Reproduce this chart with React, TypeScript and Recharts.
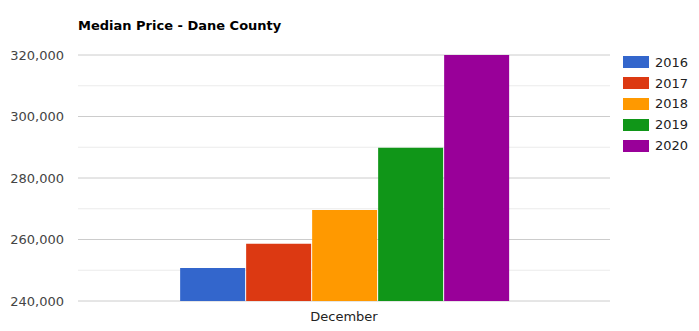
import React from "react";
import { BarChart, Bar, XAxis, YAxis, CartesianGrid } from "recharts";

const categories = ["December"];
const seriesNames = ["2016", "2017", "2018", "2019", "2020"];
const seriesValues = [250700, 258600, 269600, 289800, 320000];
const seriesColors = ["#3366cc", "#dc3912", "#ff9900", "#109618", "#990099"];
const yTicks = [240000, 250000, 260000, 270000, 280000, 290000, 300000, 310000, 320000];
const title = "Median Price - Dane County";

const data = categories.map((c) => {
  const row: Record<string, string | number> = { name: c };
  seriesNames.forEach((s, i) => {
    row[s] = seriesValues[i];
  });
  return row;
});

const FONT = "'DejaVu Sans', Verdana, sans-serif";

const fmt = (v: number) => (v % 20000 === 0 ? v.toLocaleString("en-US") : "");

const gridLine = (props: any) => {
  const major = props.index % 2 === 0;
  return (
    <line
      key={props.key}
      x1={props.x1}
      x2={props.x2}
      y1={props.y1}
      y2={props.y2}
      stroke={major ? "#cccccc" : "#ebebeb"}
      strokeWidth={1}
    />
  );
};

const LegendBox = () => (
  <div
    style={{
      position: "absolute",
      left: 623,
      top: 52,
      fontFamily: FONT,
      fontSize: 13,
      color: "#222",
    }}
  >
    {seriesNames.map((s, i) => (
      <div key={s} style={{ display: "flex", alignItems: "center", height: 20.8 }}>
        <div style={{ width: 26, height: 12, background: seriesColors[i], marginRight: 6 }} />
        <span>{s}</span>
      </div>
    ))}
  </div>
);

export default function App() {
  return (
    <div style={{ position: "absolute", left: 0, top: 0, width: 699, height: 331, background: "#fff" }}>
      <BarChart
        width={699}
        height={331}
        data={data}
        margin={{ top: 55, right: 89, left: 0, bottom: 0 }}
        barCategoryGap="19.2%"
        barGap={1}
      >
        <CartesianGrid vertical={false} horizontal={gridLine} />
        <XAxis
          dataKey="name"
          tickLine={false}
          axisLine={false}
          height={30}
          tickMargin={5}
          tick={{ fontFamily: FONT, fontSize: 13, fill: "#222" }}
        />
        <YAxis
          width={78}
          domain={[240000, 320000]}
          ticks={yTicks}
          interval={0}
          allowDataOverflow
          tickLine={false}
          axisLine={false}
          tickMargin={8}
          tickFormatter={fmt}
          tick={{ fontFamily: FONT, fontSize: 13, fill: "#444" }}
        />
        {seriesNames.map((s, i) => (
          <Bar key={s} dataKey={s} fill={seriesColors[i]} isAnimationActive={false} />
        ))}
      </BarChart>
      <div
        style={{
          position: "absolute",
          left: 78,
          top: 18,
          fontFamily: FONT,
          fontSize: 13,
          fontWeight: "bold",
          color: "#000",
          whiteSpace: "nowrap",
        }}
      >
        {title}
      </div>
      <LegendBox />
    </div>
  );
}
